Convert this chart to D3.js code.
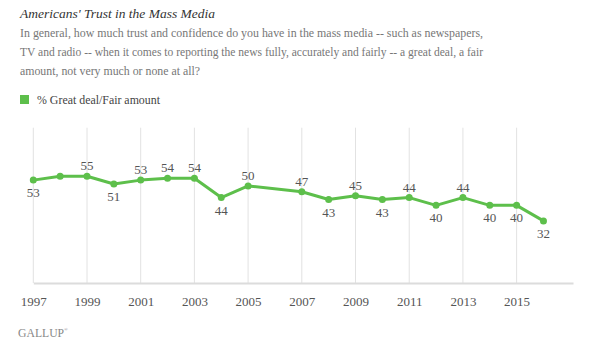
<!DOCTYPE html>
<html>
<head>
<meta charset="utf-8">
<script src="https://cdn.jsdelivr.net/npm/d3@7"></script>
<style>
  html, body { margin: 0; padding: 0; background: #fff; }
  svg { display: block; }
</style>
</head>
<body>
<svg id="chart" width="600" height="351"></svg>
<script>
// ---- data ----
const years  = [1997, 1998, 1999, 2000, 2001, 2002, 2003, 2004, 2005, 2007, 2008, 2009, 2010, 2011, 2012, 2013, 2014, 2015, 2016];
const values = [53, 55, 55, 51, 53, 54, 54, 44, 50, 47, 43, 45, 43, 44, 40, 44, 40, 40, 32];
const labels = ["53", "", "55", "51", "53", "54", "54", "44", "50", "47", "43", "45", "43", "44", "40", "44", "40", "40", "32"];
const labelsBelow = [1997, 2000, 2004, 2008, 2010, 2012, 2014, 2015, 2016];
const tickYears = [1997, 1999, 2001, 2003, 2005, 2007, 2009, 2011, 2013, 2015];
const seriesName = "% Great deal/Fair amount";
const title = "Americans' Trust in the Mass Media";
const subtitleLines = [
  "In general, how much trust and confidence do you have in the mass media -- such as newspapers,",
  "TV and radio -- when it comes to reporting the news fully, accurately and fairly -- a great deal, a fair",
  "amount, not very much or none at all?"
];

// ---- drawing ----
const FONT = '"Liberation Serif", "Times New Roman", Times, serif';
const GREEN = "#5dbf4b";
const svg = d3.select("#chart");

svg.append("text").attr("x", 20).attr("y", 18)
  .style("font-family", FONT).attr("font-style", "italic").attr("font-size", 13.5)
  .attr("textLength", 195).attr("lengthAdjust", "spacingAndGlyphs")
  .attr("fill", "#333").text(title);

const subWidths = [463, 463, 180];
svg.selectAll("text.sub").data(subtitleLines).join("text")
  .attr("class", "sub")
  .attr("x", 20).attr("y", (d, i) => 37 + i * 19)
  .style("font-family", FONT).attr("font-size", 11.9)
  .attr("textLength", (d, i) => subWidths[i]).attr("lengthAdjust", "spacingAndGlyphs")
  .attr("fill", "#777").text(d => d);

// legend
svg.append("rect").attr("x", 20).attr("y", 95).attr("width", 9).attr("height", 9).attr("fill", GREEN);
svg.append("text").attr("x", 37).attr("y", 104)
  .style("font-family", FONT).attr("font-size", 11.9)
  .attr("textLength", 123).attr("lengthAdjust", "spacingAndGlyphs")
  .attr("fill", "#444").text(seriesName);

const x = d3.scaleLinear().domain([1997, 2017.1]).range([33.3, 573]);
const y = d3.scaleLinear().domain([0, 80]).range([283, 127.7]);

// gridlines
svg.append("g").selectAll("line").data(tickYears).join("line")
  .attr("x1", d => x(d)).attr("x2", d => x(d))
  .attr("y1", y(80)).attr("y2", y(0))
  .attr("stroke", "#e2e2e2").attr("stroke-width", 1);

// axis
const axis = d3.axisBottom(x).tickValues(tickYears).tickFormat(d3.format("d"))
  .tickSize(0).tickSizeOuter(0).tickPadding(14);
const gAxis = svg.append("g").attr("transform", `translate(0,${y(0)})`).call(axis);
gAxis.attr("font-family", null).attr("font-size", null);
gAxis.select(".domain").attr("stroke", "#dcdcdc").attr("stroke-width", 2);
gAxis.selectAll("text").style("font-family", FONT).attr("font-size", 13).attr("fill", "#555");

const pts = years.map((yr, i) => ({ yr, v: values[i], lab: labels[i] }));

svg.append("path").datum(pts)
  .attr("fill", "none").attr("stroke", GREEN).attr("stroke-width", 3)
  .attr("stroke-linejoin", "round")
  .attr("d", d3.line().x(d => x(d.yr)).y(d => y(d.v)));

svg.append("g").selectAll("circle").data(pts).join("circle")
  .attr("cx", d => x(d.yr)).attr("cy", d => y(d.v)).attr("r", 3.5)
  .attr("fill", GREEN);

svg.append("g").selectAll("text").data(pts.filter(d => d.lab)).join("text")
  .attr("x", d => x(d.yr))
  .attr("y", d => labelsBelow.includes(d.yr) ? y(d.v) + 17 : y(d.v) - 6)
  .attr("text-anchor", "middle")
  .style("font-family", FONT).attr("font-size", 13)
  .attr("fill", "#555").text(d => d.lab);

// footer
const foot = svg.append("text").attr("x", 18).attr("y", 337)
  .style("font-family", FONT).attr("font-size", 11.7).attr("fill", "#888");
foot.append("tspan").text("GALLUP");
foot.append("tspan").attr("font-size", 5).attr("dy", -6).text("®");
</script>
</body>
</html>
